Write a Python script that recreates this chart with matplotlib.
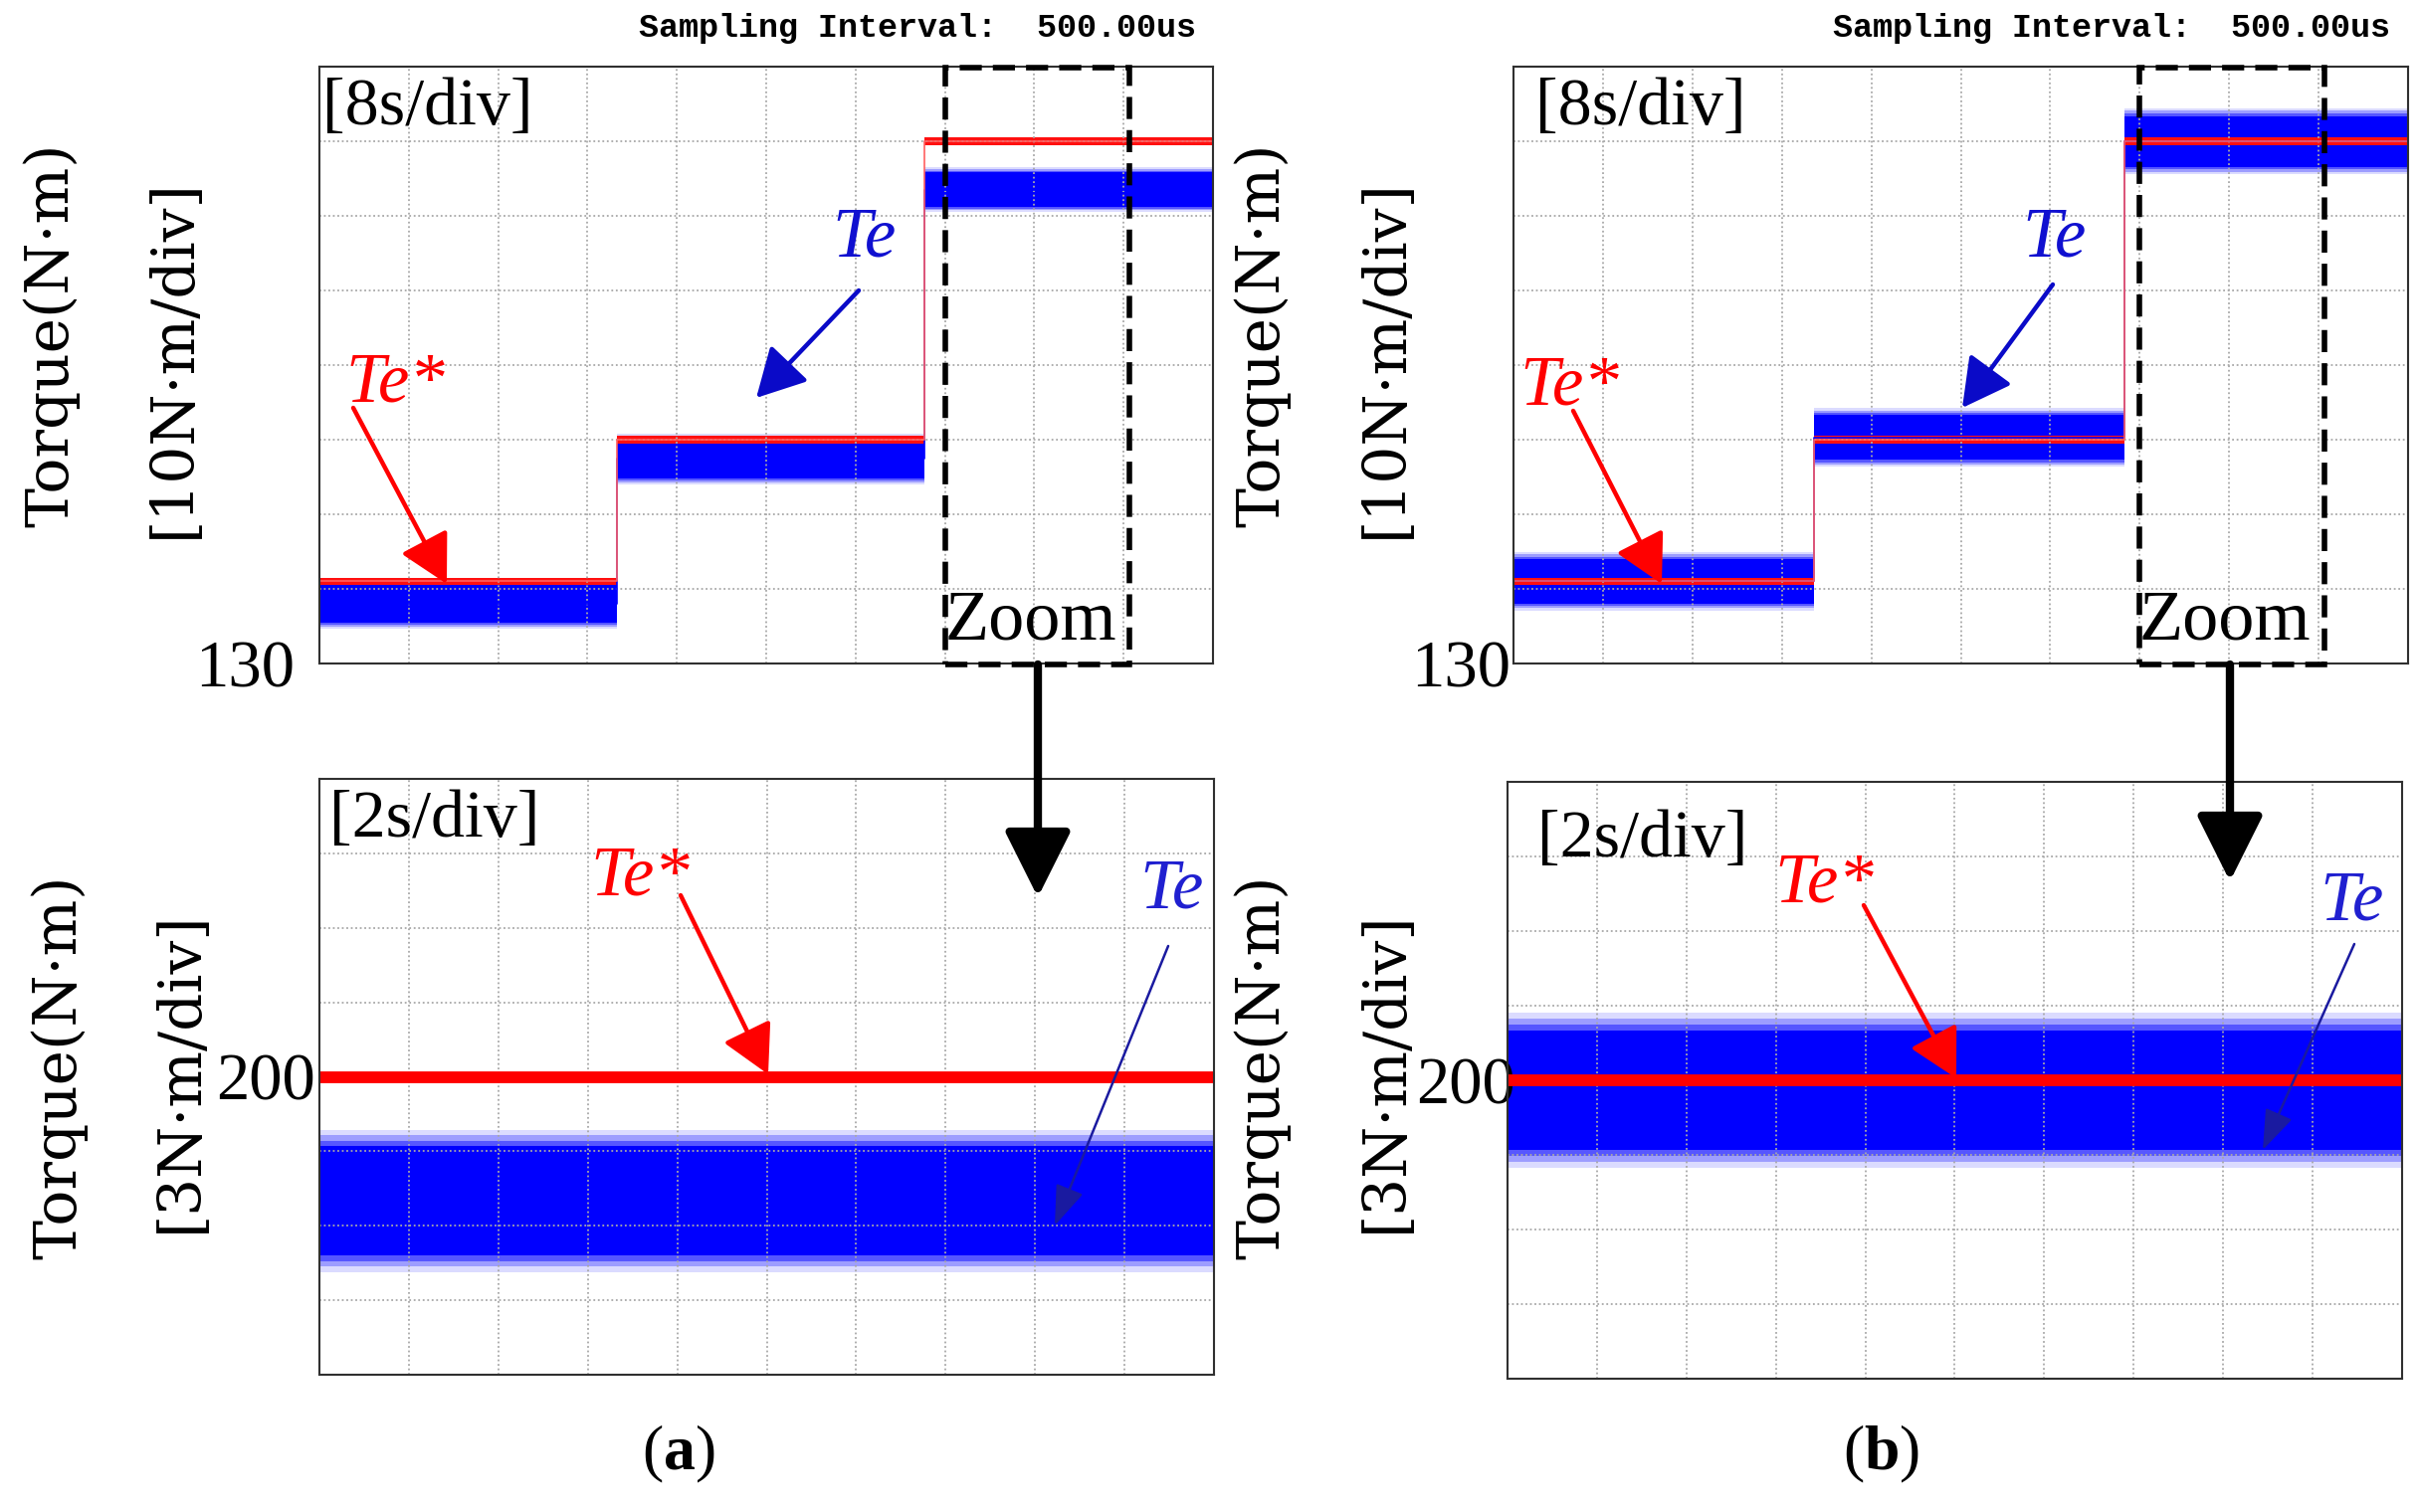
import numpy as np
import matplotlib.pyplot as plt
from matplotlib.patches import Rectangle, FancyArrowPatch

# ---- data ----
# top panels: 8 s/div, 10 N*m/div, y from 130
step_t_a = [0, 26.6, 54.2, 80]          # s, step edges of (a)
step_t_b = [0, 26.9, 54.6, 80]          # s, step edges of (b)
te_ref = [141, 160, 200]                # Te* levels (N*m)
te_a = [138.0, 157.4, 193.5]            # Te band centre, (a)
te_a_half = [2.6, 2.6, 2.3]             # Te band half width, (a)
te_b = [141.0, 160.3, 200.0]            # Te band centre, (b)
te_b_half = [3.0, 3.0, 3.4]             # Te band half width, (b)
ref_half = 0.5                          # Te* ripple half width

# bottom panels: 2 s/div, 3 N*m/div
zoom_t = [0, 20]
zoom_ref = 200
zoom_te_a, zoom_half_a = 195.0, 2.2
zoom_te_b, zoom_half_b = 199.6, 2.4

# zoom window (seconds) on the top panels
zoom_win = [56.0, 72.5]

W, H = 2431, 1520
fig = plt.figure(figsize=(W / 100, H / 100), dpi=100)
serif = 'Liberation Serif'


def frac(x, y):
    return x / W, 1 - y / H


def make_ax(l, r, t, b):
    return fig.add_axes([l / W, 1 - b / H, (r - l) / W, (b - t) / H])


def style(ax, xmax, xstep, ymin, ystep, label_val, pad):
    ax.set_xlim(0, xmax)
    ax.set_ylim(ymin, ymin + 8 * ystep)
    ax.set_xticks(np.arange(0, xmax + 0.01, xstep))
    ax.set_xticklabels([])
    yt = np.arange(ymin, ymin + 8 * ystep + 0.01, ystep)
    ax.set_yticks(yt)
    ax.set_yticklabels([str(label_val) if abs(v - label_val) < 1e-6 else '' for v in yt],
                       fontsize=48, family=serif)
    ax.tick_params(length=0, pad=pad)
    ax.grid(True, ls=(0, (1, 1.5)), color='#a8a8a8', lw=1.3)
    for s in ax.spines.values():
        s.set_color('#303030')
        s.set_linewidth(1.5)


def steps(t, v):
    return np.array(t), np.array(list(v) + [v[-1]])


def band(ax, t, c, h, step=None):
    # fuzzy edges: a few wider, fainter layers under the solid band
    for k, a in [(1.3, 0.15), (1.2, 0.3), (1.1, 0.5)]:
        ax.fill_between(t, c - h * k, c + h * k, step=step, color='#1010ff', alpha=a, lw=0)
    ax.fill_between(t, c - h, c + h, step=step, color='#0000ff', lw=0)


def draw_top(ax, t_edges, centre, half):
    t, c = steps(t_edges, centre)
    _, h = steps(t_edges, half)
    _, r = steps(t_edges, te_ref)
    band(ax, t, c, h, step='post')
    ax.step(t, c, where='post', color='#0000ff', lw=1.2)
    ax.fill_between(t, r - ref_half, r + ref_half, step='post', color='#ff1010', lw=0)
    ax.step(t, r, where='post', color='#ff6060', lw=1.2)
    ax.add_patch(Rectangle((zoom_win[0], 129.8), zoom_win[1] - zoom_win[0], 80.1,
                           fill=False, ec='black', lw=4, ls=(0, (4, 2)), clip_on=False, zorder=5))
    ax.text(np.mean(zoom_win) - 0.6, 131.3, 'Zoom', ha='center', va='bottom', fontsize=52,
            family=serif, zorder=6)


def draw_bottom(ax, centre, half):
    t = np.array(zoom_t)
    band(ax, t, centre, half)
    ax.plot(t, [zoom_ref, zoom_ref], color='#ff0000', lw=8.5, solid_capstyle='butt')


# ---- axes ----
ax_ta = make_ax(321, 1219, 67, 667)
ax_tb = make_ax(1521, 2420, 67, 667)
ax_ba = make_ax(321, 1220, 783, 1382)
ax_bb = make_ax(1515, 2414, 786, 1386)

style(ax_ta, 80, 8, 130, 10, 130, 18)
style(ax_tb, 80, 8, 130, 10, 130, 2)
style(ax_ba, 20, 2, 188, 3, 200, 3)
style(ax_bb, 20, 2, 188, 3, 200, -6)

draw_top(ax_ta, step_t_a, te_a, te_a_half)
draw_top(ax_tb, step_t_b, te_b, te_b_half)
draw_bottom(ax_ba, zoom_te_a, zoom_half_a)
draw_bottom(ax_bb, zoom_te_b, zoom_half_b)

# ---- text labels ----
for x0 in (0, 1200):
    fig.text(*frac(1202 + x0, 28), 'Sampling Interval:  500.00us', ha='right', va='center',
             fontsize=24, family='Liberation Mono', fontweight='bold')

for (x, y, s) in [(51, 337, 'Torque(N·m)'), (174, 360, '[10N·m/div]'),
                  (59, 1073, 'Torque(N·m)'), (181, 1077, '[3N·m/div]'),
                  (1268, 337, 'Torque(N·m)'), (1392, 360, '[10N·m/div]'),
                  (1268, 1073, 'Torque(N·m)'), (1392, 1077, '[3N·m/div]')]:
    fig.text(*frac(x, y), s, rotation=90, ha='center', va='center', fontsize=43, family='DejaVu Serif')

for (x, y, s) in [(324, 109, '[8s/div]'), (1543, 109, '[8s/div]'),
                  (331, 825, '[2s/div]'), (1545, 845, '[2s/div]')]:
    fig.text(*frac(x, y), s, ha='left', va='center', fontsize=49, family=serif)

for (x, y, s, c) in [(397, 386, 'Te*', 'red'), (1577, 389, 'Te*', 'red'),
                     (643, 882, 'Te*', 'red'), (1833, 889, 'Te*', 'red'),
                     (869, 240, 'Te', '#1010d0'), (2065, 240, 'Te', '#1010d0'),
                     (1178, 895, 'Te', '#2020d0'), (2364, 907, 'Te', '#2020d0')]:
    fig.text(*frac(x, y), s, ha='center', va='center', fontsize=51, family=serif,
             style='italic', color=c)

plt.rcParams['mathtext.fontset'] = 'custom'
plt.rcParams['mathtext.bf'] = 'Liberation Serif:bold'
fig.text(*frac(682, 1462), r'($\mathbf{a}$)', ha='center', va='center', fontsize=46, family=serif)
fig.text(*frac(1891, 1462), r'($\mathbf{b}$)', ha='center', va='center', fontsize=46, family=serif)


# ---- arrows ----
def arrow(p0, p1, color, lw, hl, hw, ms):
    fig.add_artist(FancyArrowPatch(
        frac(*p0), frac(*p1), transform=fig.transFigure,
        arrowstyle=f'-|>,head_length={hl},head_width={hw}', mutation_scale=ms,
        color=color, lw=lw, shrinkA=0, shrinkB=0, zorder=10))


arrow((355, 410), (449, 587), 'red', 3.2, 0.5, 0.27, 60)
arrow((1581, 413), (1670, 587), 'red', 3.2, 0.5, 0.27, 60)
arrow((863, 292), (760, 400), '#0a0ac8', 3.2, 0.5, 0.27, 60)
arrow((2063, 286), (1972, 410), '#0a0ac8', 3.2, 0.5, 0.27, 60)
arrow((684, 900), (772, 1080), 'red', 3.2, 0.5, 0.27, 60)
arrow((1873, 910), (1966, 1084), 'red', 3.2, 0.5, 0.27, 60)
arrow((1174, 951), (1060, 1232), '#1a1aa0', 1.8, 0.5, 0.18, 50)
arrow((2366, 949), (2274, 1156), '#1a1aa0', 1.8, 0.5, 0.18, 50)
arrow((1043, 668), (1043, 902), 'black', 6, 0.6, 0.3, 68)
arrow((2241, 668), (2241, 886), 'black', 6, 0.6, 0.3, 68)

fig.savefig('out.png', dpi=100)
